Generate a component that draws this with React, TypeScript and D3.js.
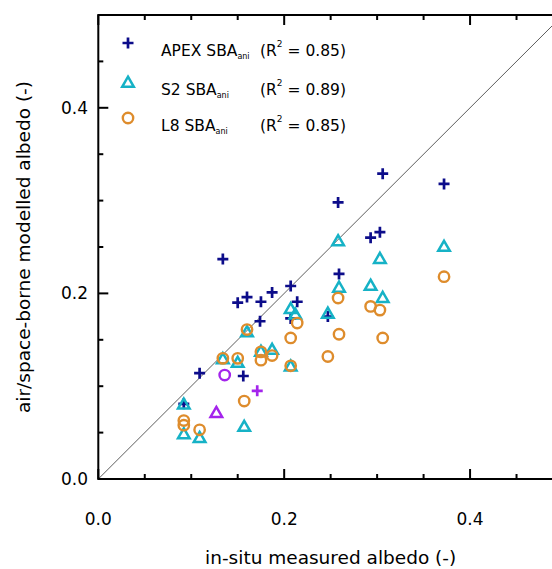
import React, { useEffect, useRef } from "react";
import * as d3 from "d3";

const width = 552;
const height = 569;

// APEX SBA_ani (plus)
const apexInSitu = [0.092, 0.109, 0.134, 0.150, 0.156, 0.160, 0.174, 0.175, 0.187, 0.207, 0.207, 0.214, 0.247, 0.258, 0.259, 0.293, 0.303, 0.306, 0.372];
const apexModelled = [0.081, 0.114, 0.237, 0.190, 0.111, 0.196, 0.170, 0.191, 0.201, 0.208, 0.173, 0.191, 0.175, 0.298, 0.221, 0.260, 0.266, 0.329, 0.318];

// S2 SBA_ani (triangle)
const s2InSitu = [0.092, 0.092, 0.109, 0.134, 0.150, 0.157, 0.160, 0.175, 0.187, 0.207, 0.207, 0.212, 0.247, 0.258, 0.259, 0.293, 0.303, 0.306, 0.372];
const s2Modelled = [0.081, 0.049, 0.045, 0.130, 0.126, 0.057, 0.159, 0.138, 0.140, 0.184, 0.122, 0.178, 0.179, 0.257, 0.207, 0.209, 0.238, 0.196, 0.251];

// L8 SBA_ani (circle)
const l8InSitu = [0.092, 0.092, 0.109, 0.134, 0.150, 0.157, 0.160, 0.175, 0.175, 0.187, 0.207, 0.207, 0.214, 0.247, 0.258, 0.259, 0.293, 0.303, 0.306, 0.372];
const l8Modelled = [0.063, 0.058, 0.053, 0.130, 0.130, 0.084, 0.161, 0.137, 0.128, 0.133, 0.152, 0.122, 0.168, 0.132, 0.195, 0.156, 0.186, 0.182, 0.152, 0.218];

// highlighted site (purple)
const purpleSymbols = ["plus", "triangle", "circle"];
const purpleInSitu = [0.171, 0.127, 0.136];
const purpleModelled = [0.095, 0.072, 0.112];

const legendNames = ["APEX SBA", "S2 SBA", "L8 SBA"];
const legendR2 = ["0.85", "0.89", "0.85"];
const tickLabels = [0.0, 0.2, 0.4];

const navy = "#0c0c8a";
const cyan = "#16b2c6";
const orange = "#de8c2c";
const purple = "#a424ec";

const font = "'DejaVu Sans', Verdana, sans-serif";

function drawSymbol(g, kind, cx, cy, color) {
  if (kind === "plus") {
    const a = 5.5;
    g.append("path")
      .attr("d", `M${cx - a},${cy}H${cx + a}M${cx},${cy - a}V${cy + a}`)
      .attr("stroke", color)
      .attr("stroke-width", 2.7)
      .attr("fill", "none");
  } else if (kind === "triangle") {
    const w = 5.8, h = 5.3;
    g.append("path")
      .attr("d", `M${cx},${cy - h}L${cx + w},${cy + h * 0.9}L${cx - w},${cy + h * 0.9}Z`)
      .attr("stroke", color)
      .attr("stroke-width", 2.5)
      .attr("stroke-linejoin", "miter")
      .attr("fill", "none");
  } else {
    g.append("circle")
      .attr("cx", cx)
      .attr("cy", cy)
      .attr("r", 5.2)
      .attr("stroke", color)
      .attr("stroke-width", 2.4)
      .attr("fill", "none");
  }
}

function Chart() {
  const ref = useRef(null);

  useEffect(() => {
    const svg = d3.select(ref.current);
    svg.selectAll("*").remove();

    const x = d3.scaleLinear().domain([0, 0.5]).range([98.3, 563]);
    const y = d3.scaleLinear().domain([0, 0.5]).range([479, 15]);

    const g = svg.append("g");

    // 1:1 line
    g.append("line")
      .attr("x1", x(0)).attr("y1", y(0))
      .attr("x2", x(0.5)).attr("y2", y(0.5))
      .attr("stroke", "#333")
      .attr("stroke-width", 0.8);

    // frame
    g.append("rect")
      .attr("x", x(0)).attr("y", y(0.5))
      .attr("width", x(0.5) - x(0)).attr("height", y(0) - y(0.5))
      .attr("fill", "none")
      .attr("stroke", "#000")
      .attr("stroke-width", 2);

    const ticks = d3.range(0, 0.5001, 0.05);
    ticks.forEach((t, i) => {
      const len = i % 4 === 0 ? 10 : 5;
      // bottom and top
      g.append("line").attr("x1", x(t)).attr("x2", x(t)).attr("y1", y(0)).attr("y2", y(0) - len)
        .attr("stroke", "#000").attr("stroke-width", 2);
      g.append("line").attr("x1", x(t)).attr("x2", x(t)).attr("y1", y(0.5)).attr("y2", y(0.5) + len)
        .attr("stroke", "#000").attr("stroke-width", 2);
      // left
      g.append("line").attr("y1", y(t)).attr("y2", y(t)).attr("x1", x(0)).attr("x2", x(0) + len)
        .attr("stroke", "#000").attr("stroke-width", 2);
    });

    tickLabels.forEach((t) => {
      g.append("text")
        .attr("x", x(t)).attr("y", 525)
        .attr("text-anchor", "middle")
        .style("font-family", font).style("font-size", "17px")
        .text(d3.format(".1f")(t));
      g.append("text")
        .attr("x", 88).attr("y", y(t) + 6)
        .attr("text-anchor", "end")
        .style("font-family", font).style("font-size", "17px")
        .text(d3.format(".1f")(t));
    });

    g.append("text")
      .attr("x", (x(0) + x(0.5)) / 2).attr("y", 564)
      .attr("text-anchor", "middle")
      .style("font-family", font).style("font-size", "18.5px")
      .text("in-situ measured albedo (-)");

    g.append("text")
      .attr("transform", `translate(30,${(y(0) + y(0.5)) / 2}) rotate(-90)`)
      .attr("text-anchor", "middle")
      .style("font-family", font).style("font-size", "18.5px")
      .text("air/space-borne modelled albedo (-)");

    // points
    const pts = g.append("g");
    apexInSitu.forEach((v, i) => drawSymbol(pts, "plus", x(v), y(apexModelled[i]), navy));
    s2InSitu.forEach((v, i) => drawSymbol(pts, "triangle", x(v), y(s2Modelled[i]), cyan));
    l8InSitu.forEach((v, i) => drawSymbol(pts, "circle", x(v), y(l8Modelled[i]), orange));
    purpleInSitu.forEach((v, i) => drawSymbol(pts, purpleSymbols[i], x(v), y(purpleModelled[i]), purple));

    // legend
    const legendSym = ["plus", "triangle", "circle"];
    const legendCol = [navy, cyan, orange];
    const legendY = [43, 82, 118];
    legendNames.forEach((name, i) => {
      drawSymbol(g, legendSym[i], 128, legendY[i], legendCol[i]);
      const base = legendY[i] + 13;
      const t1 = g.append("text")
        .attr("x", 161).attr("y", base)
        .style("font-family", font).style("font-size", "15.5px");
      t1.append("tspan").text(name);
      t1.append("tspan").attr("dy", 3).style("font-size", "8px").text("ani");
      const t2 = g.append("text")
        .attr("x", 260).attr("y", base)
        .style("font-family", font).style("font-size", "15.5px");
      t2.append("tspan").text("(R");
      t2.append("tspan").attr("dy", -9).style("font-size", "9px").text("2");
      t2.append("tspan").attr("dy", 9).text(` = ${legendR2[i]})`);
    });
  }, []);

  return (
    <svg
      ref={ref}
      width={width}
      height={height}
      style={{ position: "absolute", left: 0, top: 0, background: "#fff" }}
    />
  );
}

export default function App() {
  return <Chart />;
}
